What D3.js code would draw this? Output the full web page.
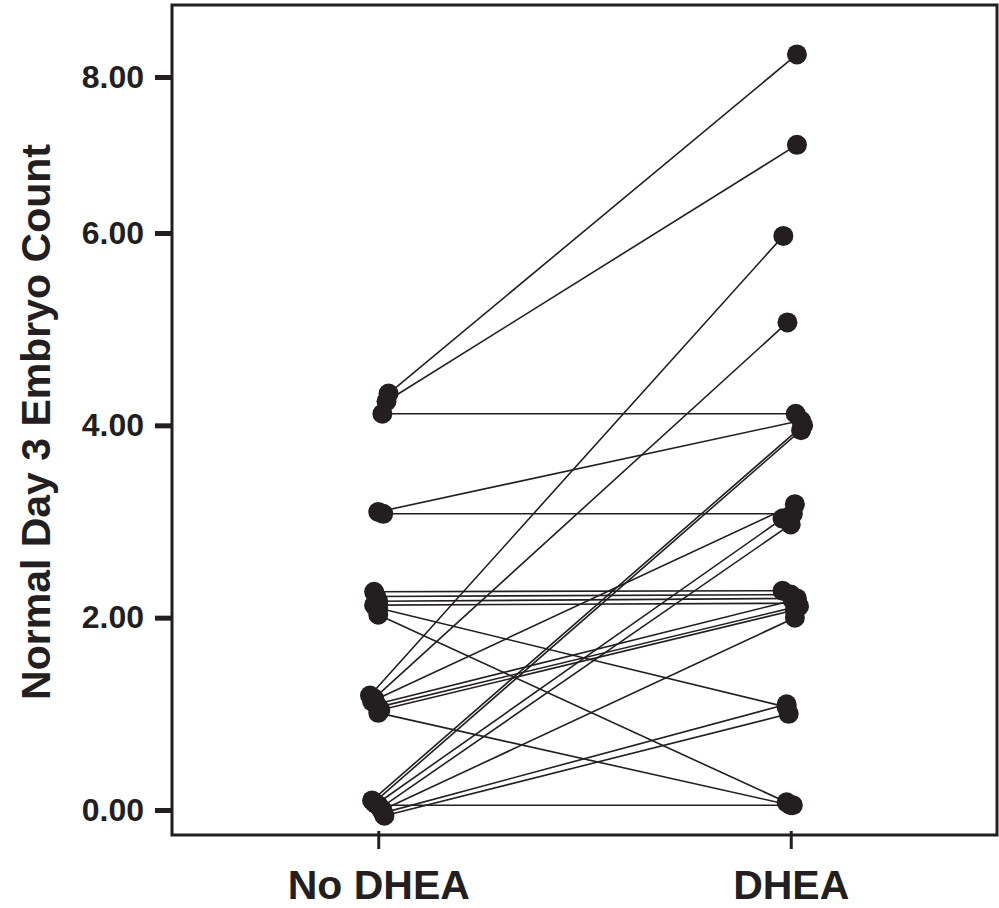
<!DOCTYPE html>
<html>
<head>
<meta charset="utf-8">
<script src="https://cdn.jsdelivr.net/npm/d3@7"></script>
<style>
  body { margin: 0; background: #fff; }
  svg { display: block; font-family: "Liberation Sans", Arial, sans-serif; }
</style>
</head>
<body>
<div id="chart"></div>
<script>
// groups on the x axis
const categories = ["No DHEA", "DHEA"];
const yTicks = [0, 2, 4, 6, 8];

// one entry per patient: count without DHEA, count with DHEA
const noDhea = [4.33, 4.25, 4.12, 3.10, 3.08, 2.27, 2.22, 2.17, 2.13, 2.10, 2.03,
  1.19, 1.16, 1.13, 1.10, 1.07, 1.04, 1.01,
  0.10, 0.08, 0.06, 0.05, 0.02, 0.00, -0.03, -0.06];
const dhea = [8.29, 7.13, 4.12, 4.05, 3.08, 2.28, 2.24, 2.20, 2.15, 1.07, 0.08,
  5.97, 5.07, 3.18, 2.18, 2.12, 2.08, 0.05,
  4.00, 3.95, 3.03, 0.05, 2.97, 2.00, 1.10, 1.00];
// horizontal jitter of each dot (in group units)
const jitterNo = [0.025, 0.02, 0.01, 0.0, 0.012, -0.01, -0.005, 0.0, -0.01, 0.0, 0.0,
  -0.02, -0.01, -0.015, -0.005, 0.0, 0.005, 0.0,
  -0.015, -0.01, -0.005, 0.0, 0.005, 0.01, 0.012, 0.015];
const jitterDhea = [0.015, 0.015, 0.012, 0.025, 0.005, -0.02, 0.0, 0.015, 0.01, -0.01, -0.01,
  -0.018, -0.008, 0.01, 0.005, 0.02, 0.01, 0.0,
  0.03, 0.025, -0.02, 0.005, 0.0, 0.01, -0.01, -0.005];

const margin = { top: 5, right: 2, bottom: 73, left: 172 };
const width = 999 - margin.left - margin.right;
const height = 908 - margin.top - margin.bottom;
const ink = "#231f20";

const svg = d3.select("#chart")
  .append("svg")
  .attr("width", 999)
  .attr("height", 908);

const g = svg.append("g")
  .attr("transform", "translate(" + margin.left + "," + margin.top + ")");

const x = d3.scaleLinear().domain([-0.5, 1.5]).range([0, width]);
// the printed axis is stretched above 6
const y = d3.scaleLinear().domain([0, 6, 8]).range([805, 228, 72]);

const pairs = noDhea.map((v, i) => ({
  a: v, b: dhea[i], ja: jitterNo[i], jb: jitterDhea[i]
}));

// y axis
const yAxis = d3.axisLeft(y)
  .tickValues(yTicks)
  .tickFormat(d3.format(".2f"))
  .tickSize(17)
  .tickPadding(11);
const yg = g.append("g").call(yAxis);
yg.select(".domain").remove();
yg.selectAll(".tick line").attr("stroke", ink).attr("stroke-width", 5);
yg.selectAll(".tick text")
  .attr("fill", ink)
  .style("font-size", "32px")
  .style("font-weight", "bold");

// x axis
const xAxis = d3.axisBottom(x)
  .tickValues([0, 1])
  .tickFormat(i => categories[i])
  .tickSize(14)
  .tickPadding(21);
const xg = g.append("g")
  .attr("transform", "translate(0," + height + ")")
  .call(xAxis);
xg.select(".domain").remove();
xg.selectAll(".tick line").attr("stroke", ink).attr("stroke-width", 3).attr("y1", -4);
xg.selectAll(".tick text")
  .attr("fill", ink)
  .style("font-size", "41px")
  .style("font-weight", "bold");

// frame
g.append("rect")
  .attr("width", width)
  .attr("height", height)
  .attr("fill", "none")
  .attr("stroke", ink)
  .attr("stroke-width", 3);

// connecting lines
g.selectAll(".pair")
  .data(pairs)
  .enter()
  .append("line")
  .attr("class", "pair")
  .attr("x1", d => x(0 + d.ja))
  .attr("y1", d => y(d.a))
  .attr("x2", d => x(1 + d.jb))
  .attr("y2", d => y(d.b))
  .attr("stroke", ink)
  .attr("stroke-width", 1.6);

// dots
g.selectAll(".dotA")
  .data(pairs)
  .enter()
  .append("circle")
  .attr("class", "dotA")
  .attr("cx", d => x(0 + d.ja))
  .attr("cy", d => y(d.a))
  .attr("r", 10)
  .attr("fill", ink);

g.selectAll(".dotB")
  .data(pairs)
  .enter()
  .append("circle")
  .attr("class", "dotB")
  .attr("cx", d => x(1 + d.jb))
  .attr("cy", d => y(d.b))
  .attr("r", 10)
  .attr("fill", ink);

// y title
svg.append("text")
  .attr("transform", "translate(50," + (margin.top + 417) + ") rotate(-90)")
  .attr("text-anchor", "middle")
  .attr("fill", ink)
  .style("font-size", "41px")
  .style("font-weight", "bold")
  .text("Normal Day 3 Embryo Count");
</script>
</body>
</html>
